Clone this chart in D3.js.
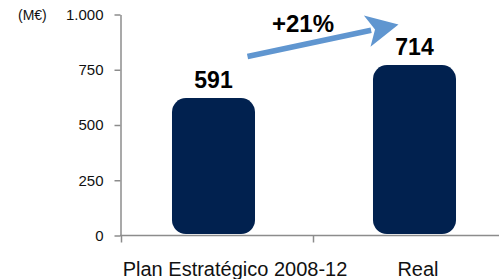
<!DOCTYPE html>
<html>
<head>
<meta charset="utf-8">
<script src="https://cdn.jsdelivr.net/npm/d3@7"></script>
<style>
  body { margin: 0; background: #fff; }
  text { font-family: 'Liberation Sans', Arial, sans-serif; }
</style>
</head>
<body>
<div id="chart"></div>
<script>
// data
const categories = ['Plan Estratégico 2008-12', 'Real']
const barValues = [622, 771] // bar heights as drawn
const valueLabels = ['591', '714']
const yTicks = [0, 250, 500, 750, 1000]
const unitLabel = '(M€)'
const growthLabel = '+21%'

const width = 499
const height = 279

const svg = d3
  .select('#chart')
  .append('svg')
  .attr('width', width)
  .attr('height', height)

const yScale = d3.scaleLinear().domain([0, 1000]).range([235.5, 14.5])

// bands used for the x axis ticks
const xTickScale = d3.scaleBand().domain(categories).range([121, 505])

// bars
const xBarScale = d3
  .scaleBand()
  .domain(categories)
  .range([113, 515])
  .paddingInner(0.587)
  .paddingOuter(0.2935)

const xLabelScale = d3.scalePoint().domain(categories).range([235, 418])

const es = d3.formatLocale({ decimal: ',', thousands: '.', grouping: [3], currency: ['', '€'] })

const axisColor = '#8c8c8c'

// y axis
const yAxis = d3
  .axisLeft(yScale)
  .tickValues(yTicks)
  .tickFormat(es.format(','))
  .tickSize(6)
  .tickSizeOuter(0)
  .tickPadding(11)

const yAxisG = svg
  .append('g')
  .attr('class', 'axis y-axis')
  .attr('transform', 'translate(120.5,0)')
  .call(yAxis)

yAxisG.selectAll('path, line').attr('stroke', axisColor).attr('stroke-width', 1.5)
yAxisG
  .selectAll('text')
  .attr('fill', '#111')
  .style('font-size', '15px')
  .style('font-family', "'Liberation Sans', Arial, sans-serif")

svg
  .append('text')
  .attr('x', 18)
  .attr('y', 20)
  .attr('fill', '#111')
  .style('font-size', '14px')
  .text(unitLabel)

// x axis
svg
  .append('line')
  .attr('x1', 120)
  .attr('x2', width)
  .attr('y1', yScale(0))
  .attr('y2', yScale(0))
  .attr('stroke', axisColor)
  .attr('stroke-width', 1.5)

svg
  .selectAll('.x-tick')
  .data(categories)
  .enter()
  .append('line')
  .attr('class', 'x-tick')
  .attr('x1', d => xTickScale(d) + 0.5)
  .attr('x2', d => xTickScale(d) + 0.5)
  .attr('y1', yScale(0))
  .attr('y2', yScale(0) + 7)
  .attr('stroke', axisColor)
  .attr('stroke-width', 1.5)

svg
  .selectAll('.x-label')
  .data(categories)
  .enter()
  .append('text')
  .attr('class', 'x-label')
  .attr('x', d => xLabelScale(d))
  .attr('y', 276)
  .attr('text-anchor', 'middle')
  .attr('fill', '#111')
  .style('font-size', '20px')
  .text(d => d)

// bars
const bars = categories.map((c, i) => ({ category: c, value: barValues[i], label: valueLabels[i] }))

svg
  .selectAll('.bar')
  .data(bars)
  .enter()
  .append('rect')
  .attr('class', 'bar')
  .attr('x', d => xBarScale(d.category))
  .attr('width', xBarScale.bandwidth())
  .attr('y', d => yScale(d.value))
  .attr('height', d => yScale(0) - 1.5 - yScale(d.value))
  .attr('rx', 14)
  .attr('ry', 14)
  .attr('fill', '#01214f')

svg
  .selectAll('.value-label')
  .data(bars)
  .enter()
  .append('text')
  .attr('class', 'value-label')
  .attr('x', d => xBarScale(d.category) + xBarScale.bandwidth() / 2)
  .attr('y', d => yScale(d.value) - 10.5)
  .attr('text-anchor', 'middle')
  .attr('fill', '#000')
  .style('font-size', '23px')
  .style('font-weight', 'bold')
  .text(d => d.label)

// growth arrow between the two bars
const arrowColor = '#6096d0'
const x0 = xBarScale(categories[0]) + xBarScale.bandwidth() / 2 + 34
const x1 = xBarScale(categories[1]) + xBarScale.bandwidth() / 2 - 16
const y0 = yScale(810)
const y1 = yScale(955)
const ang = Math.atan2(y1 - y0, x1 - x0)
const headLen = 32
const headHalf = 16
const bx = x1 - headLen * Math.cos(ang)
const by = y1 - headLen * Math.sin(ang)
const nx = -Math.sin(ang)
const ny = Math.cos(ang)

svg
  .append('line')
  .attr('x1', x0)
  .attr('y1', y0)
  .attr('x2', bx + 4 * Math.cos(ang))
  .attr('y2', by + 4 * Math.sin(ang))
  .attr('stroke', arrowColor)
  .attr('stroke-width', 5.5)

svg
  .append('path')
  .attr('d', d3.line()([
    [x1, y1],
    [bx + nx * headHalf, by + ny * headHalf],
    [bx + 8 * Math.cos(ang), by + 8 * Math.sin(ang)],
    [bx - nx * headHalf, by - ny * headHalf]
  ]) + 'Z')
  .attr('fill', arrowColor)

svg
  .append('text')
  .attr('x', 303)
  .attr('y', 32)
  .attr('text-anchor', 'middle')
  .attr('fill', '#000')
  .style('font-size', '24px')
  .style('font-weight', 'bold')
  .text(growthLabel)
</script>
</body>
</html>
